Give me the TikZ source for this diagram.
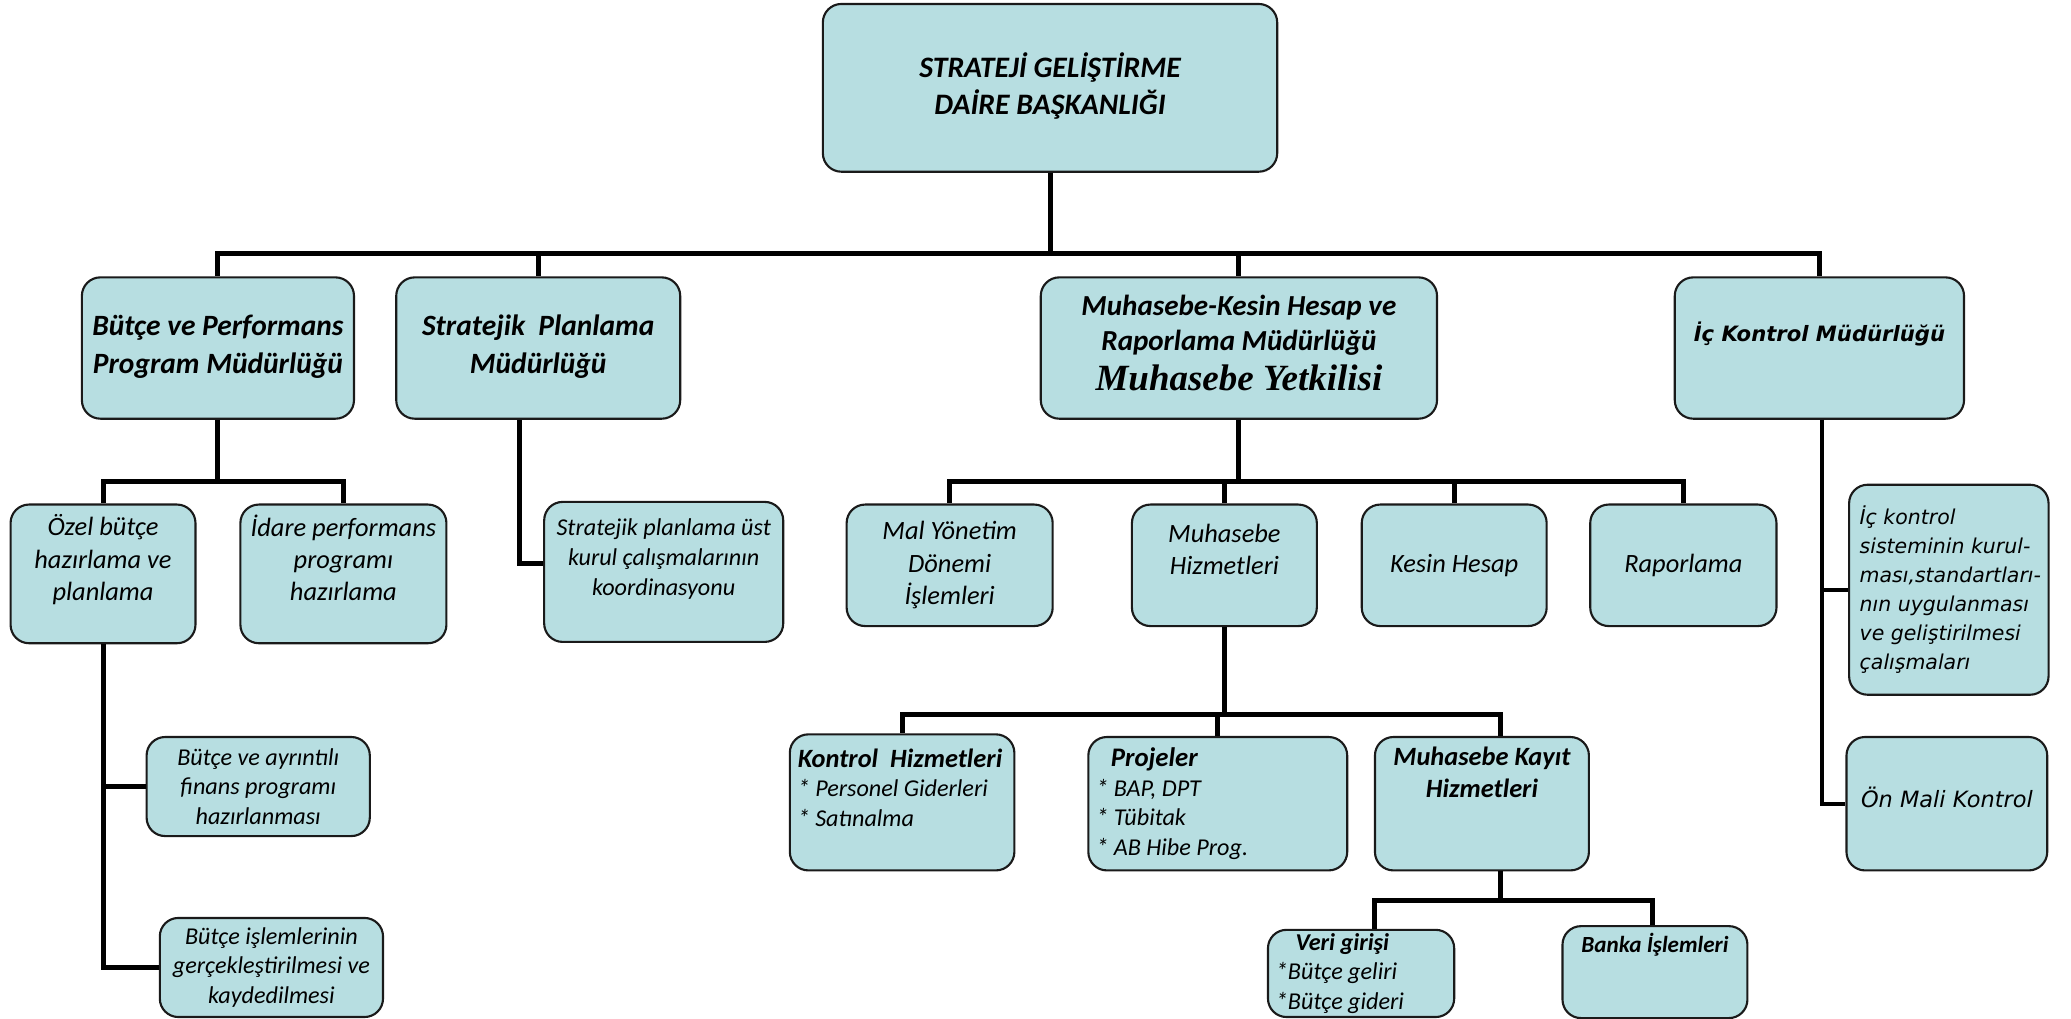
\documentclass[tikz,border=0pt]{standalone}
\usepackage{fontspec}
\setmainfont{Carlito}
\newfontfamily\verdanafont{DejaVu Sans}[ItalicFont={DejaVu Sans Oblique},BoldItalicFont={DejaVu Sans Bold Oblique}]
\newfontfamily\cambriafont{Liberation Serif}
\usetikzlibrary{calc}
\definecolor{boxbg}{HTML}{B7DEE1}
\definecolor{boxborder}{HTML}{1A1A1A}
\definecolor{linecolor}{HTML}{000000}
\definecolor{textcolor}{HTML}{000000}
\newcommand{\nohyph}{\hyphenpenalty=10000\exhyphenpenalty=10000\hbadness=10000\hfuzz=20pt}
\tikzset{
  orgbox/.style={
    draw=boxborder,
    fill=boxbg,
    line width=1.6pt,
    rounded corners=14pt,
    align=center,
    text=textcolor,
    inner sep=5pt
  },
  headbox/.style={orgbox, font=\fontsize{22.5}{28}\selectfont\bfseries\itshape},
  deptbox/.style={orgbox, font=\fontsize{22.3}{29}\selectfont\bfseries\itshape},
  unitbox/.style={orgbox, font=\fontsize{20}{24.5}\selectfont\itshape},
  taskbox/.style={orgbox, font=\fontsize{18.3}{22.5}\selectfont\itshape},
  listbox/.style={orgbox, align=flush left, inner xsep=6pt, font=\fontsize{18.3}{22.5}\selectfont\itshape\nohyph},
  ickbox/.style={orgbox, font=\verdanafont\fontsize{15.5}{22}\selectfont\itshape\nohyph},
  orgline/.style={
    draw=linecolor,
    line width=3.8pt
  },
  thinline/.style={orgline, line width=3pt}
}

\begin{document}
\begin{tikzpicture}[x=1pt,y=-1pt]
  \useasboundingbox (0,0) rectangle (1568,771);

  % Head
  \node (top) [headbox, minimum width=344pt, minimum height=127pt] at (795,66.5)
    {STRATEJİ GELİŞTİRME\\DAİRE BAŞKANLIĞI\\[-22pt]~};

  % Departments
  \node (bb) [deptbox, minimum width=206pt, minimum height=107pt] at (165,263.5)
    {~\\[-15pt]Bütçe ve Performans\\Program Müdürlüğü};
  \node (sp) [deptbox, minimum width=215pt, minimum height=107pt] at (407.5,263.5)
    {~\\[-15pt]Stratejik\ \ Planlama\\Müdürlüğü};
  \node (mk) [deptbox, font=\fontsize{22}{27}\selectfont\bfseries\itshape, minimum width=300pt, minimum height=107pt] at (938,263.5)
    {Muhasebe-Kesin Hesap ve\\Raporlama Müdürlüğü\\[3pt]{\cambriafont\fontsize{28}{31}\selectfont Muhasebe Yetkilisi}\\[-19pt]~};
  \node (ik) [deptbox, font=\verdanafont\fontsize{16}{24}\selectfont\bfseries\itshape, minimum width=219pt, minimum height=107pt] at (1377.5,263.5)
    {İç Kontrol Müdürlüğü\\~};

  % Butce ve Performans units
  \node (ozel) [unitbox, minimum width=140pt, minimum height=105pt] at (78,434.5)
    {Özel bütçe\\hazırlama ve\\planlama\\~};
  \node (idare) [unitbox, minimum width=156pt, minimum height=105pt] at (260,434.5)
    {İdare performans\\programı\\hazırlama\\~};
  \node (ayr) [taskbox, minimum width=169pt, minimum height=75pt] at (195.5,595.5)
    {Bütçe ve ayrıntılı\\finans programı\\hazırlanması};
  \node (isl) [taskbox, minimum width=169pt, minimum height=75pt] at (205.5,732.5)
    {Bütçe işlemlerinin\\gerçekleştirilmesi ve\\kaydedilmesi};

  % Stratejik Planlama unit
  \node (spk) [taskbox, minimum width=181pt, minimum height=106pt] at (502.5,433)
    {Stratejik planlama üst\\kurul çalışmalarının\\koordinasyonu\\~};

  % Muhasebe units
  \node (mal) [unitbox, minimum width=156pt, minimum height=92pt] at (719,428)
    {Mal Yönetim\\Dönemi\\İşlemleri};
  \node (mhz) [unitbox, minimum width=140pt, minimum height=92pt] at (927,428)
    {Muhasebe\\Hizmetleri\\~};
  \node (kesin) [unitbox, minimum width=140pt, minimum height=92pt] at (1101,428)
    {Kesin Hesap};
  \node (rap) [unitbox, minimum width=141pt, minimum height=92pt] at (1274.5,428)
    {Raporlama};

  \node (kont) [listbox, text width=158pt, minimum height=103pt] at (683,607.5)
    {{\fontsize{20}{22.5}\selectfont\bfseries Kontrol~~Hizmetleri}\\{}* Personel Giderleri\\{}* Satınalma\\~};
  \node (proj) [listbox, text width=184pt, minimum height=101pt] at (922,608.5)
    {\hspace*{11pt}{\fontsize{20.3}{22.5}\selectfont\bfseries Projeler}\\{}* BAP, DPT\\{}* Tübitak\\{}* AB Hibe Prog.};
  \node (kayit) [unitbox, font=\fontsize{20}{24}\selectfont\bfseries\itshape, minimum width=162pt, minimum height=101pt] at (1122,608.5)
    {Muhasebe Kayıt\\Hizmetleri\\~\\~};
  \node (veri) [listbox, inner ysep=1pt, text width=129pt, minimum height=66pt] at (1030.5,737)
    {\hspace*{15pt}\textbf{Veri girişi}\\{}*Bütçe geliri\\{}*Bütçe gideri};
  \node (banka) [taskbox, font=\fontsize{17.5}{22.5}\selectfont\itshape, minimum width=140pt, minimum height=66pt] at (1253,736)
    {\textbf{Banka İşlemleri}\\~\\~};

  % Ic Kontrol units
  \node (ickt) [ickbox, align=flush left, inner xsep=8pt, text width=135pt, minimum height=159pt] at (1475.5,446.5)
    {İç kontrol\\sisteminin kurul-\\ması,standartları-\\nın uygulanması\\ve geliştirilmesi\\çalışmaları};
  \node (onm) [ickbox, font=\verdanafont\fontsize{17}{22}\selectfont\itshape, minimum width=152pt, minimum height=101pt] at (1474,608.5)
    {Ön Mali Kontrol\\[-12pt]~};

  % Connectors
  \draw [orgline] (top.south) -- ++(0,61) -| (bb.north);
  \draw [orgline] (top.south) -- ++(0,61) -| (sp.north);
  \draw [orgline] (top.south) -- ++(0,61) -| (mk.north);
  \draw [orgline] (top.south) -- ++(0,61) -| (ik.north);

  \draw [orgline] (bb.south) -- ++(0,47) -| (ozel.north);
  \draw [orgline] (bb.south) -- ++(0,47) -| (idare.north);
  \draw [orgline] (ozel.south) |- (ayr.west);
  \draw [orgline] (ozel.south) |- (isl.west);

  \draw [orgline] ($(sp.south)+(-14.5,0)$) |- ($(spk.west)+(0,-6)$);

  \draw [orgline] (mk.south) -- ++(0,47) -| (mal.north);
  \draw [orgline] (mk.south) -- ++(0,47) -| (mhz.north);
  \draw [orgline] (mk.south) -- ++(0,47) -| (kesin.north);
  \draw [orgline] (mk.south) -- ++(0,47) -| (rap.north);

  \draw [orgline] (mhz.south) -- ++(0,66) -| (kont.north);
  \draw [orgline] (mhz.south) -- ++(0,66) -| (proj.north);
  \draw [orgline] (mhz.south) -- ++(0,66) -| ($(kayit.north)+(14,0)$);

  \draw [orgline] ($(kayit.south)+(14,0)$) -- ++(0,22) -| ($(veri.north)+(10,0)$);
  \draw [orgline] ($(kayit.south)+(14,0)$) -- ++(0,22) -| ($(banka.north)+(-2,0)$);

  \draw [thinline] ($(ik.south)+(2,0)$) |- (ickt.west);
  \draw [thinline] ($(ik.south)+(2,0)$) |- (onm.west);

\end{tikzpicture}
\end{document}
